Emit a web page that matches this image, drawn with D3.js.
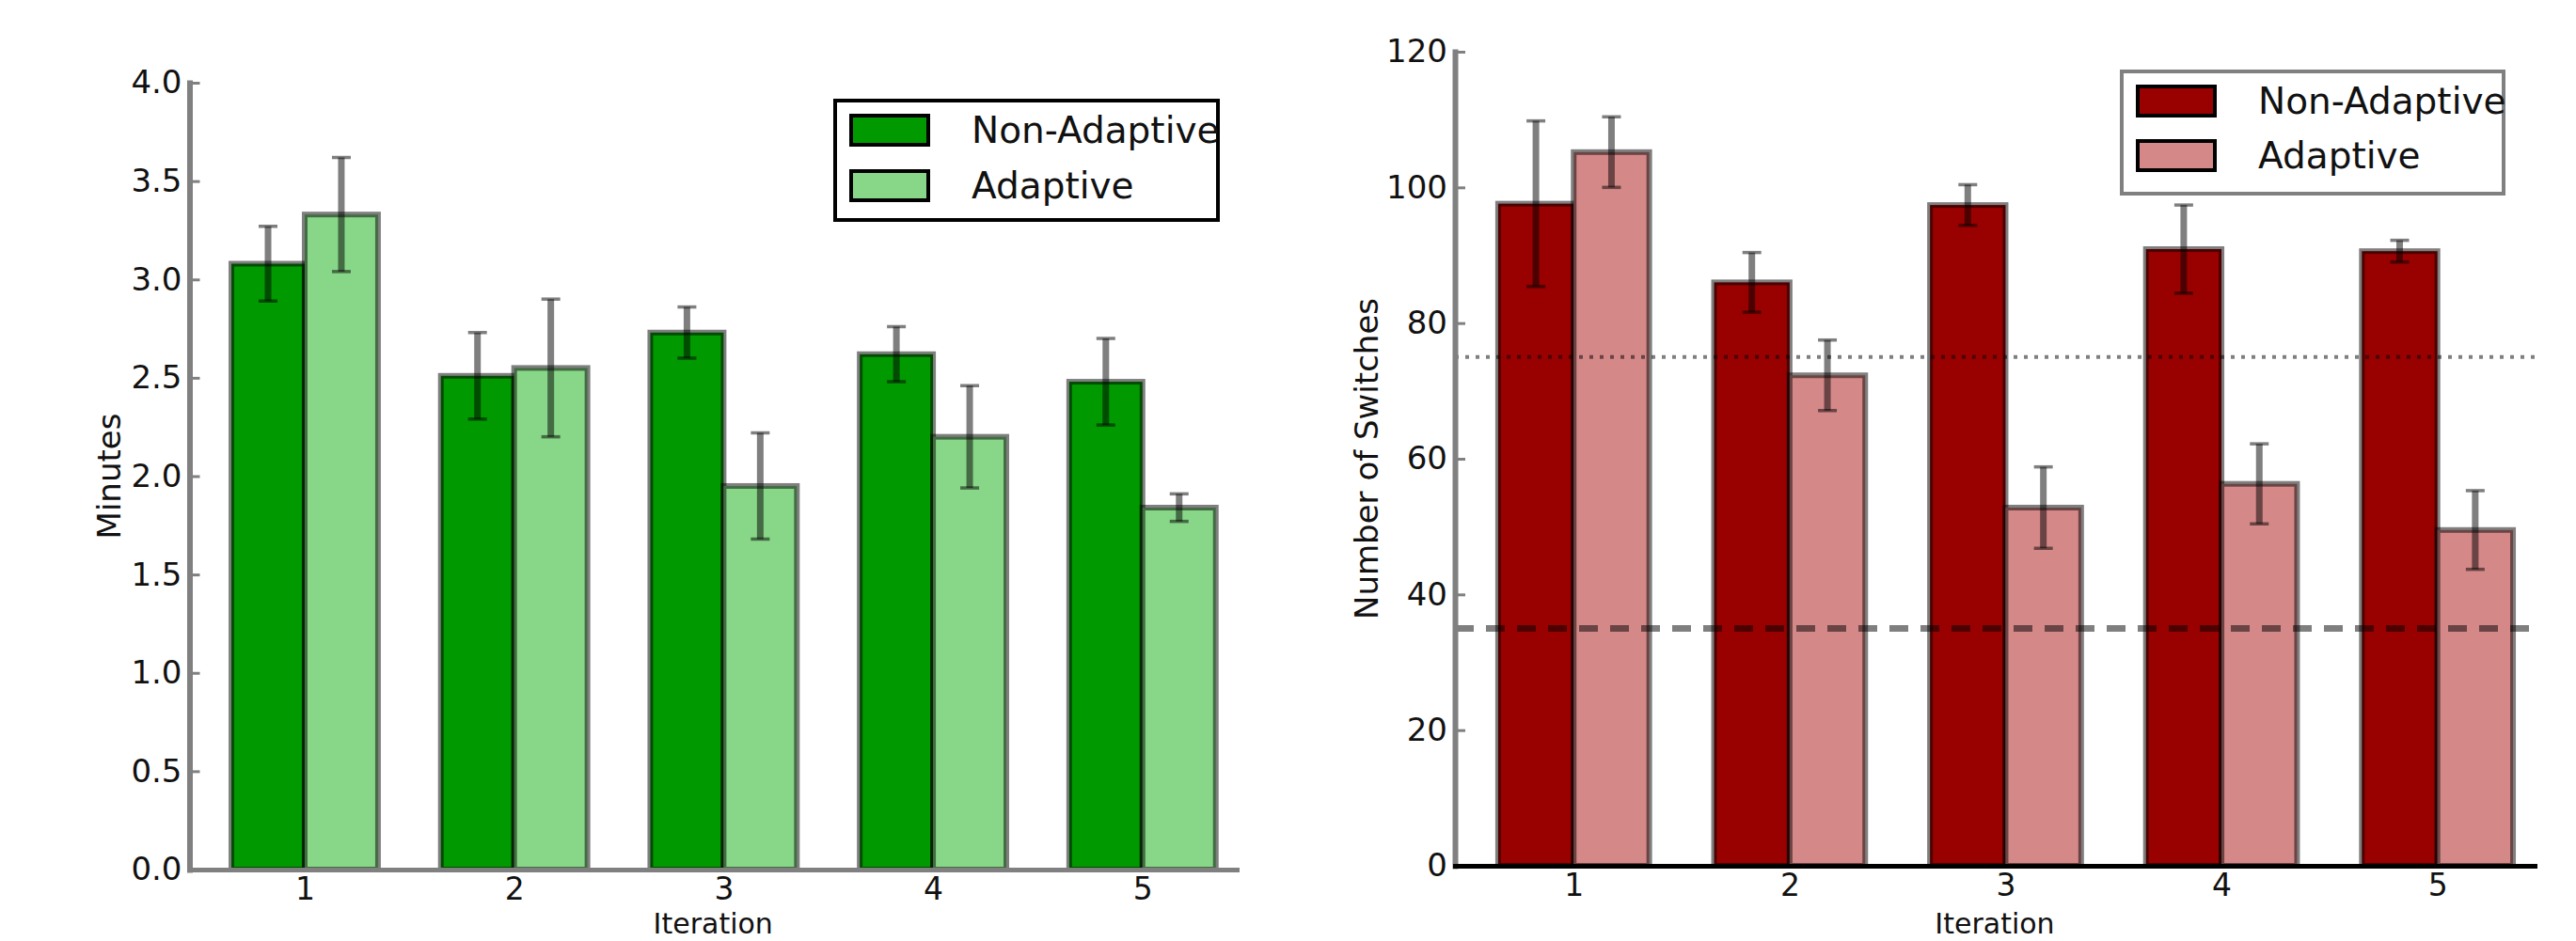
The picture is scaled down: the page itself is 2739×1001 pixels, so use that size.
<!DOCTYPE html>
<html>
<head>
<meta charset="utf-8">
<script src="https://cdnjs.cloudflare.com/ajax/libs/d3/7.8.5/d3.min.js"></script>
<style>
  body { margin:0; background:#fff; }
  svg text { font-family: "DejaVu Sans", sans-serif; fill:#111; }
</style>
</head>
<body>
<div id="charts"></div>
<script>
var iterations = ["1", "2", "3", "4", "5"];
var seriesNames = ["Non-Adaptive", "Adaptive"];

// left panel: minutes
var minutesNonAdaptive    = [3.08, 2.51, 2.73, 2.62, 2.48];
var minutesAdaptive       = [3.33, 2.55, 1.95, 2.20, 1.84];
var minutesNonAdaptiveErr = [0.19, 0.22, 0.13, 0.14, 0.22];
var minutesAdaptiveErr    = [0.29, 0.35, 0.27, 0.26, 0.07];
var minutesTicks = [0, 0.5, 1.0, 1.5, 2.0, 2.5, 3.0, 3.5, 4.0];

// right panel: number of switches
var switchesNonAdaptive    = [97.6, 86.0, 97.4, 90.9, 90.6];
var switchesAdaptive       = [105.2, 72.3, 52.8, 56.3, 49.5];
var switchesNonAdaptiveErr = [12.2, 4.4, 3.0, 6.5, 1.6];
var switchesAdaptiveErr    = [5.2, 5.2, 6.0, 5.9, 5.8];
var switchesTicks = [0, 20, 40, 60, 80, 100, 120];
var switchesRefDotted = 75;
var switchesRefDashed = 35;

var barW = 0.35;
var halfBlack = "rgba(0,0,0,0.5)";

var svg = d3.select("#charts")
  .append("svg")
    .attr("width", 2739)
    .attr("height", 1001);

function drawPanel(p) {
  var x = d3.scaleLinear().domain([-0.2, 4.8]).range([p.left, p.right]);
  var y = d3.scaleLinear().domain([0, p.ymax]).range([p.bottom, p.top]);
  var g = svg.append("g");

  var bars = [];
  iterations.forEach(function(it, i) {
    bars.push({x0: i, v: p.na[i], e: p.naErr[i], k: 0});
    bars.push({x0: i + barW, v: p.ad[i], e: p.adErr[i], k: 1});
  });

  g.selectAll("rect.bar")
    .data(bars)
    .enter().append("rect")
      .attr("class", "bar")
      .attr("x", function(d) { return x(d.x0); })
      .attr("width", function(d) { return x(d.x0 + barW) - x(d.x0); })
      .attr("y", function(d) { return y(d.v); })
      .attr("height", function(d) { return y(0) - y(d.v); })
      .attr("fill", function(d) { return p.colors[d.k]; })
      .attr("stroke", halfBlack)
      .attr("stroke-width", 6);

  // error bars
  var eb = g.selectAll("g.err")
    .data(bars)
    .enter().append("g")
      .attr("class", "err");

  eb.append("line")
    .attr("x1", function(d) { return x(d.x0 + barW / 2); })
    .attr("x2", function(d) { return x(d.x0 + barW / 2); })
    .attr("y1", function(d) { return y(d.v + d.e); })
    .attr("y2", function(d) { return y(d.v - d.e); })
    .attr("stroke", halfBlack)
    .attr("stroke-width", 7);

  [1, -1].forEach(function(s) {
    eb.append("line")
      .attr("x1", function(d) { return x(d.x0 + barW / 2) - 10; })
      .attr("x2", function(d) { return x(d.x0 + barW / 2) + 10; })
      .attr("y1", function(d) { return y(d.v + s * d.e); })
      .attr("y2", function(d) { return y(d.v + s * d.e); })
      .attr("stroke", halfBlack)
      .attr("stroke-width", 3.5);
  });

  // reference lines
  (p.refs || []).forEach(function(r) {
    g.append("line")
      .attr("x1", x(-0.2)).attr("x2", x(4.8))
      .attr("y1", y(r.value)).attr("y2", y(r.value))
      .attr("stroke", halfBlack)
      .attr("stroke-width", r.width)
      .attr("stroke-dasharray", r.dash);
  });

  var yAxis = d3.axisLeft(y)
    .tickValues(p.ticks)
    .tickFormat(p.fmt)
    .tickSizeInner(-11)
    .tickSizeOuter(0)
    .tickPadding(8);

  var xAxis = d3.axisBottom(x)
    .tickValues(iterations.map(function(d, i) { return i + barW; }))
    .tickFormat(function(d, i) { return iterations[i]; })
    .tickSize(0)
    .tickPadding(9);

  var ya = g.append("g")
    .attr("class", "y axis")
    .attr("transform", "translate(" + p.left + ",0)")
    .call(yAxis);
  ya.select(".domain").attr("stroke", "#808080").attr("stroke-width", 6).attr("stroke-linecap", "square");
  ya.selectAll(".tick line").attr("stroke", "#808080").attr("stroke-width", 3);
  ya.selectAll("text").attr("font-size", "34px").attr("fill", "#111");

  var xa = g.append("g")
    .attr("class", "x axis")
    .attr("transform", "translate(0," + p.bottom + ")")
    .call(xAxis);
  xa.select(".domain").attr("stroke", p.xAxisColor).attr("stroke-width", 5).attr("stroke-linecap", "square");
  xa.selectAll("text").attr("font-size", "33px").attr("fill", "#111");

  g.append("text")
    .attr("x", (p.left + p.right) / 2)
    .attr("y", 993)
    .attr("text-anchor", "middle")
    .attr("font-size", "30px")
    .text("Iteration");

  g.append("text")
    .attr("transform", "translate(" + p.ytitleX + "," + ((p.top + p.bottom) / 2) + ")rotate(-90)")
    .attr("text-anchor", "middle")
    .attr("font-size", "34px")
    .text(p.ytitle);

  // legend
  var lg = g.append("g")
    .attr("transform", "translate(" + p.legend.x + "," + p.legend.y + ")");
  lg.append("rect")
    .attr("width", p.legend.w)
    .attr("height", p.legend.h)
    .attr("fill", "#fff")
    .attr("stroke", p.legend.stroke)
    .attr("stroke-width", 4);
  var items = lg.selectAll("g.item")
    .data(seriesNames)
    .enter().append("g")
      .attr("class", "item")
      .attr("transform", function(d, i) { return "translate(17," + (16 + i * p.legend.step) + ")"; });
  items.append("rect")
    .attr("width", 82)
    .attr("height", 31)
    .attr("fill", function(d, i) { return p.colors[i]; })
    .attr("stroke", "#000")
    .attr("stroke-width", 4);
  items.append("text")
    .attr("x", 128)
    .attr("y", 29)
    .attr("font-size", "39px")
    .text(function(d) { return d; });
}

drawPanel({
  left: 201.5, right: 1315, top: 88, bottom: 925, ymax: 4,
  na: minutesNonAdaptive, ad: minutesAdaptive,
  naErr: minutesNonAdaptiveErr, adErr: minutesAdaptiveErr,
  ticks: minutesTicks, fmt: d3.format(".1f"),
  colors: ["#009900", "#88d788"],
  xAxisColor: "#808080",
  ytitle: "Minutes", ytitleX: 128,
  legend: {x: 888, y: 107, w: 407, h: 127, step: 59, stroke: "#000"}
});

drawPanel({
  left: 1547, right: 2695, top: 55, bottom: 921, ymax: 120,
  na: switchesNonAdaptive, ad: switchesAdaptive,
  naErr: switchesNonAdaptiveErr, adErr: switchesAdaptiveErr,
  ticks: switchesTicks, fmt: d3.format("d"),
  colors: ["#990000", "#d58888"],
  xAxisColor: "#000",
  ytitle: "Number of Switches", ytitleX: 1465,
  refs: [
    {value: switchesRefDotted, width: 4, dash: "4,7"},
    {value: switchesRefDashed, width: 7, dash: "20,13"}
  ],
  legend: {x: 2256, y: 76, w: 406, h: 130, step: 58, stroke: "#808080"}
});
</script>
</body>
</html>
